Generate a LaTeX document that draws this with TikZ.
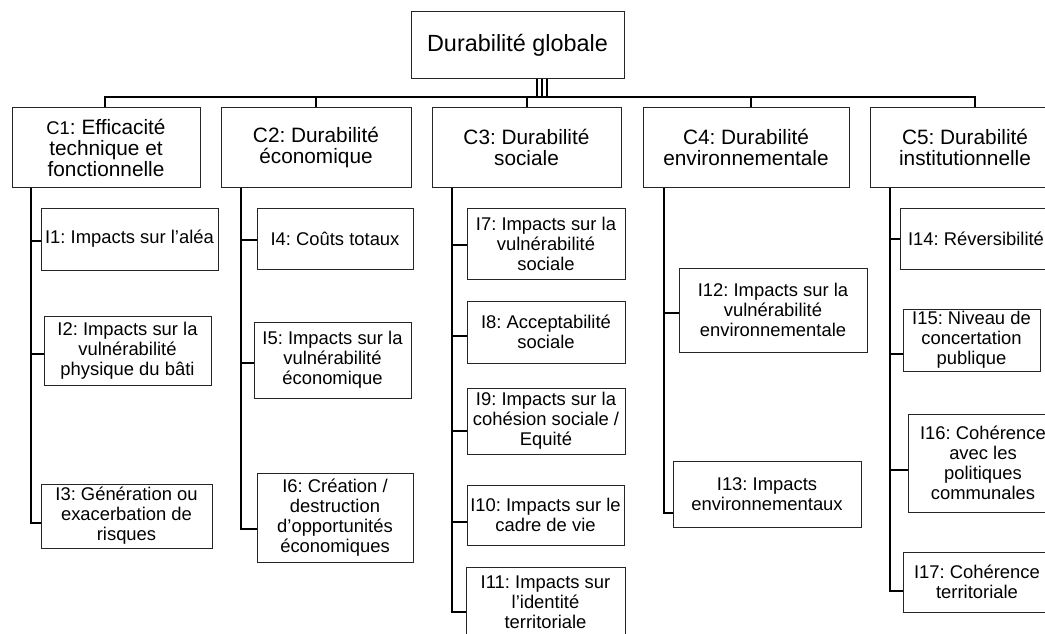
\documentclass[tikz,border=0pt]{standalone}
\usepackage{fontspec}
\setmainfont{Liberation Sans}
\frenchspacing
\begin{document}
\begin{tikzpicture}[x=1pt,y=-1pt,
  box/.style={draw=black!85,line width=1pt,rectangle,inner sep=0pt,align=center,text=black},
  rootbox/.style={box,font=\fontsize{23.4}{26}\selectfont},
  cbox/.style={box,font=\fontsize{20.8}{21}\selectfont},
  ibox/.style={box,font=\fontsize{18.4}{20}\selectfont},
  conn/.style={draw=black,line width=1.2pt}]
\useasboundingbox (0,0) rectangle (1045,634);
\clip (0,0) rectangle (1045,634);
% root
\node[rootbox,minimum width=213,minimum height=67] (root) at (517.5,45.5) {Durabilité globale};
% criteria
\node[cbox,minimum width=188,minimum height=79] (c1) at (106,147.5) {{\fontsize{18.4}{21}\selectfont C1}: Efficacité\\technique et\\fonctionnelle};
\node[cbox,minimum width=190,minimum height=79] (c2) at (316,147.5) {C2: Durabilité\\économique};
\node[cbox,minimum width=189,minimum height=79] (c3) at (526.5,147.5) {C3: Durabilité\\sociale};
\node[cbox,minimum width=206,minimum height=79] (c4) at (746,147.5) {C4: Durabilité\\environnementale};
\node[cbox,minimum width=190,minimum height=79] (c5) at (965,147.5) {C5: Durabilité\\institutionnelle};
% indicators C1
\node[ibox,minimum width=177,minimum height=62] (i1) at (129.5,239) {I1: Impacts sur l’aléa};
\node[ibox,minimum width=167,minimum height=69] (i2) at (127.5,350.5) {I2: Impacts sur la\\vulnérabilité\\physique du bâti};
\node[ibox,minimum width=171,minimum height=64] (i3) at (126.5,516) {I3: Génération ou\\exacerbation de\\risques};
% C2
\node[ibox,minimum width=156,minimum height=61] (i4) at (335,238.5) {I4: Coûts totaux};
\node[ibox,minimum width=157,minimum height=76] (i5) at (332.5,360) {I5: Impacts sur la\\vulnérabilité\\économique};
\node[ibox,minimum width=156,minimum height=89] (i6) at (335,517.5) {I6: Création /\\destruction\\d’opportunités\\économiques};
% C3
\node[ibox,minimum width=158,minimum height=71] (i7) at (546,243.5) {I7: Impacts sur la\\vulnérabilité\\sociale};
\node[ibox,minimum width=158,minimum height=62] (i8) at (546,332) {I8: Acceptabilité\\sociale};
\node[ibox,minimum width=158,minimum height=66] (i9) at (546,421) {I9: Impacts sur la\\cohésion sociale /\\Equité};
\node[ibox,minimum width=157,minimum height=60] (i10) at (545.5,515) {I10: Impacts sur le\\cadre de vie};
\node[ibox,minimum width=159,minimum height=70] (i11) at (545.5,602) {I11: Impacts sur\\l’identité\\territoriale};
% C4
\node[ibox,minimum width=188,minimum height=84] (i12) at (773,310) {I12: Impacts sur la\\vulnérabilité\\environnementale};
\node[ibox,minimum width=188,minimum height=66] (i13) at (767,494) {I13: Impacts\\environnementaux};
% C5
\node[ibox,minimum width=152,minimum height=61] (i14) at (976,238.5) {I14: Réversibilité};
\node[ibox,minimum width=137,minimum height=62] (i15) at (971.5,340) {I15: Niveau de\\concertation\\publique};
\node[ibox,minimum width=150,minimum height=98] (i16) at (983,463) {I16: Cohérence\\avec les\\politiques\\communales};
\node[ibox,minimum width=148,minimum height=60] (i17) at (977,582) {I17: Cohérence\\territoriale};
% root to bus
\foreach \x in {537,542,547} \draw[conn] (root.south -| \x,0) -- (\x,97);
\draw[conn] (c1.north -| 105,0) -- (105,97) -- (975,97) -- (c5.north -| 975,0);
\draw[conn] (316,97) -- (c2.north -| 316,0);
\draw[conn] (527,97) -- (c3.north -| 527,0);
\draw[conn] (751,97) -- (c4.north -| 751,0);
% spines
\draw[conn] (c1.south -| 31,0) -- (31,523) -- (i3.west |- 0,523);
\draw[conn] (31,241) -- (i1.west |- 0,241);
\draw[conn] (31,354) -- (i2.west |- 0,354);
\draw[conn] (c2.south -| 241,0) -- (241,529) -- (i6.west |- 0,529);
\draw[conn] (241,240) -- (i4.west |- 0,240);
\draw[conn] (241,363) -- (i5.west |- 0,363);
\draw[conn] (c3.south -| 452,0) -- (452,612) -- (i11.west |- 0,612);
\draw[conn] (452,245) -- (i7.west |- 0,245);
\draw[conn] (452,336) -- (i8.west |- 0,336);
\draw[conn] (452,431) -- (i9.west |- 0,431);
\draw[conn] (452,522) -- (i10.west |- 0,522);
\draw[conn] (c4.south -| 664,0) -- (664,513) -- (i13.west |- 0,513);
\draw[conn] (664,313) -- (i12.west |- 0,313);
\draw[conn] (c5.south -| 890,0) -- (890,591) -- (i17.west |- 0,591);
\draw[conn] (890,239) -- (i14.west |- 0,239);
\draw[conn] (890,354) -- (i15.west |- 0,354);
\draw[conn] (890,470) -- (i16.west |- 0,470);
\end{tikzpicture}
\end{document}
